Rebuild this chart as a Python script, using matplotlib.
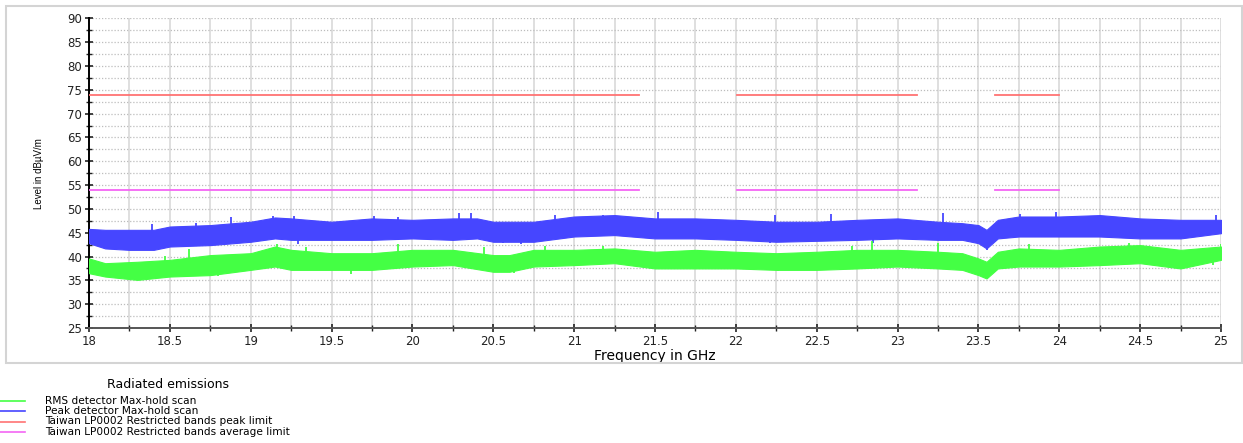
import matplotlib
matplotlib.use("Agg")
import matplotlib.pyplot as plt
from matplotlib.lines import Line2D
from matplotlib.patches import Rectangle
from matplotlib.ticker import MultipleLocator

# envelope of the peak detector trace (dBuV/m)
pk_freq = [18.0, 18.1, 18.25, 18.4, 18.5, 18.75, 19.0, 19.15, 19.25, 19.5, 19.75,
           20.0, 20.25, 20.4, 20.5, 20.75, 21.0, 21.25, 21.5, 21.75, 22.0, 22.25,
           22.5, 22.75, 23.0, 23.25, 23.4, 23.5, 23.55, 23.62, 23.75, 24.0, 24.25,
           24.5, 24.75, 25.0]
pk_hi = [45.8, 45.6, 45.6, 45.6, 46.3, 46.6, 47.3, 48.2, 48.0, 47.3, 48.0,
         47.7, 48.0, 48.0, 47.3, 47.3, 48.4, 48.7, 48.0, 48.0, 47.7, 47.3,
         47.3, 47.7, 48.0, 47.3, 47.0, 46.6, 45.6, 47.7, 48.4, 48.4, 48.7,
         48.0, 47.7, 47.7]
pk_lo = [42.8, 41.7, 41.4, 41.4, 42.1, 42.4, 43.1, 43.8, 43.5, 43.5, 43.5,
         43.8, 43.5, 43.8, 43.1, 43.1, 44.2, 44.5, 43.8, 43.8, 43.5, 43.1,
         43.3, 43.5, 43.8, 43.5, 43.5, 42.8, 41.7, 43.8, 44.2, 44.2, 44.2,
         43.8, 43.8, 44.9]
# isolated spikes sticking out of the peak trace
pk_spike_up_f = [18.39, 18.66, 18.88, 19.14, 19.27, 19.76, 19.91, 20.29, 20.36,
                 20.88, 21.18, 21.52, 22.24, 22.59, 23.28, 23.76, 23.98, 24.97]
pk_spike_up = [46.8, 47.1, 48.2, 48.5, 48.5, 48.6, 48.2, 49.2, 49.2,
               48.8, 48.8, 49.3, 48.8, 48.9, 49.2, 48.9, 49.4, 48.8]
pk_spike_dn_f = [18.16, 18.42, 19.29, 19.78, 20.56, 20.67, 22.21, 22.85, 23.55]
pk_spike_dn = [41.9, 41.5, 42.6, 44.0, 42.9, 42.7, 42.9, 42.9, 41.3]

# envelope of the RMS detector trace
rms_freq = [18.0, 18.1, 18.3, 18.5, 18.75, 19.0, 19.15, 19.25, 19.5, 19.75,
            20.0, 20.25, 20.5, 20.6, 20.75, 21.0, 21.25, 21.5, 21.75, 22.0,
            22.25, 22.5, 22.75, 23.0, 23.25, 23.4, 23.5, 23.55, 23.62, 23.75,
            24.0, 24.25, 24.5, 24.75, 25.0]
rms_hi = [39.6, 38.6, 38.9, 39.3, 40.3, 40.7, 42.1, 41.4, 40.7, 40.7,
          41.4, 41.4, 40.3, 40.3, 41.4, 41.4, 41.7, 41.0, 41.4, 41.0,
          40.7, 41.0, 41.4, 41.4, 41.0, 40.7, 39.6, 38.9, 41.0, 41.7,
          41.4, 42.1, 42.4, 41.4, 42.1]
rms_lo = [36.5, 35.8, 35.1, 35.8, 36.1, 37.2, 37.9, 37.2, 37.2, 37.2,
          37.9, 38.2, 36.8, 36.8, 37.9, 38.2, 38.6, 37.5, 37.5, 37.5,
          37.2, 37.2, 37.5, 37.9, 37.5, 37.2, 36.1, 35.4, 37.5, 37.9,
          37.9, 38.2, 38.6, 37.5, 39.3]
rms_spike_up_f = [18.47, 18.62, 19.16, 19.34, 19.91, 20.44, 20.82, 21.18,
                  22.72, 22.84, 23.25, 23.81, 24.43, 25.0]
rms_spike_up = [40.1, 41.5, 42.6, 41.9, 42.6, 41.9, 42.3, 42.3,
                42.3, 43.3, 42.8, 42.6, 42.9, 42.6]
rms_spike_dn_f = [18.30, 18.80, 19.62, 20.52, 20.63, 22.26, 23.28, 23.53, 24.95]
rms_spike_dn = [35.0, 35.9, 36.3, 37.0, 36.6, 37.0, 37.4, 35.7, 38.3]

# Taiwan LP0002 restricted bands (GHz)
band_start = [18.0, 22.01, 23.6]
band_stop = [21.4, 23.12, 24.0]
peak_limit = 74
avg_limit = 54

legend_labels = ["RMS detector Max-hold scan",
                 "Peak detector Max-hold scan",
                 "Taiwan LP0002 Restricted bands peak limit",
                 "Taiwan LP0002 Restricted bands average limit"]

c_rms = "#44ff44"
c_pk = "#4646ff"
c_peaklim = "#ff7373"
c_avglim = "#f466f4"

W, H = 1243, 443
fig = plt.figure(figsize=(W / 100, H / 100), dpi=100)
ax = fig.add_axes([89 / W, 1 - 328 / H, (1221 - 89) / W, (328 - 18.3) / H])

# noisy traces: envelope band plus the odd spike
ax.fill_between(rms_freq, rms_lo, rms_hi, color=c_rms, lw=0.8, zorder=3)
ax.fill_between(pk_freq, pk_lo, pk_hi, color=c_pk, lw=0.8, zorder=3)
ax.vlines(pk_spike_up_f, [v - 3 for v in pk_spike_up], pk_spike_up,
          color=c_pk, lw=1.3, zorder=3)
ax.vlines(pk_spike_dn_f, pk_spike_dn, [v + 3 for v in pk_spike_dn],
          color=c_pk, lw=1.3, zorder=3)
ax.vlines(rms_spike_up_f, [v - 3 for v in rms_spike_up], rms_spike_up,
          color=c_rms, lw=1.3, zorder=3)
ax.vlines(rms_spike_dn_f, rms_spike_dn, [v + 3 for v in rms_spike_dn],
          color=c_rms, lw=1.3, zorder=3)
for a, b in zip(band_start, band_stop):
    ax.plot([a, b], [peak_limit, peak_limit], color=c_peaklim, lw=1.3, zorder=4)
    ax.plot([a, b], [avg_limit, avg_limit], color=c_avglim, lw=1.3, zorder=4)

ax.set_xlim(18, 25)
ax.set_ylim(25, 90)
ax.xaxis.set_minor_locator(MultipleLocator(0.25))
ax.yaxis.set_major_locator(MultipleLocator(5))
ax.yaxis.set_minor_locator(MultipleLocator(2.5))
ax.set_xticks([18, 18.5, 19, 19.5, 20, 20.5, 21, 21.5, 22, 22.5, 23, 23.5, 24, 24.5, 25])
ax.set_xticklabels(["18", "18.5", "19", "19.5", "20", "20.5", "21", "21.5", "22",
                    "22.5", "23", "23.5", "24", "24.5", "25"])
ax.grid(axis="x", which="both", color="#dcdcdc", lw=1.3, ls="-", zorder=0)
ax.grid(axis="y", which="both", color="#bdbdbd", lw=0.9, ls=(0, (1, 1.5)), zorder=0)
ax.set_axisbelow(True)
for s in ["top", "right"]:
    ax.spines[s].set_visible(False)
ax.spines["left"].set_color("black")
ax.spines["left"].set_linewidth(1.4)
ax.spines["bottom"].set_color("#555555")
ax.spines["bottom"].set_linewidth(1.4)
ax.tick_params(which="major", direction="inout", length=6, width=1.2,
               labelsize=8.5, colors="#222222", pad=2)
ax.tick_params(which="minor", direction="inout", length=5, width=1.0,
               colors="#222222")

ax.set_xlabel("Frequency in GHz", fontsize=10, labelpad=1)
ax.set_ylabel("Level in dB\u00b5V/m", fontsize=7, labelpad=17,
              family="Liberation Sans")

# outer frame of the plot panel
fig.add_artist(Rectangle((6 / W, 1 - 363 / H), (1242 - 6) / W, (363 - 6) / H,
                         transform=fig.transFigure, fill=False,
                         edgecolor="#d4d4d4", lw=1.5))

# legend block below the chart
fig.text(168 / W, 1 - 384 / H, "Radiated emissions", ha="center", va="center",
         fontsize=9)
leg_colors = [c_rms, c_pk, c_peaklim, c_avglim]
leg_y = [401, 411, 421.5, 432]
for lab, col, y in zip(legend_labels, leg_colors, leg_y):
    fig.add_artist(Line2D([0, 25 / W], [1 - y / H, 1 - y / H],
                          transform=fig.transFigure, color=col, lw=1.2))
    fig.text(45 / W, 1 - y / H, lab, ha="left", va="center", fontsize=7.6)

fig.savefig("out.png", dpi=100)
